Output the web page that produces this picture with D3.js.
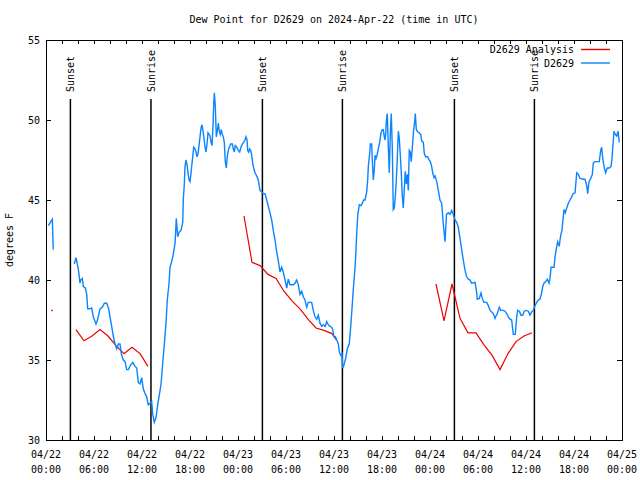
<!DOCTYPE html>
<html><head><meta charset="utf-8">
<script src="https://cdn.jsdelivr.net/npm/d3@7"></script>
<style>
html,body{margin:0;padding:0;background:#fff;}
text{font-family:"DejaVu Sans Mono",monospace;font-size:10px;fill:#000;}
</style></head>
<body><svg id="c" width="640" height="480"></svg>
<script>
// ---- data (hours after 2024-04-22 00:00 UTC, value in degrees F); NaN = gap ----
const blueHours = [0.29,0.54,0.79,0.91,2.0,
3.54,3.75,3.84,4.09,4.25,4.34,4.54,4.66,4.91,5.09,5.21,5.41,5.71,5.91,6.25,6.41,6.75,7.04,7.29,7.59,7.84,8.00,8.21,8.41,8.63,8.84,9.04,9.25,9.41,9.66,9.88,10.09,10.29,10.59,10.84,11.13,11.34,11.54,11.75,11.96,12.16,12.38,12.59,12.79,13.00,13.21,13.34,13.54,13.75,13.96,14.16,14.38,14.59,14.79,15.00,15.16,15.38,15.50,15.71,15.91,16.13,16.29,16.46,16.66,16.88,17.09,17.16,17.29,17.38,17.50,17.63,17.75,17.88,18.00,18.13,18.21,18.34,18.46,18.63,18.75,18.88,19.00,19.13,19.25,19.38,19.50,19.63,19.75,19.88,20.00,20.13,20.25,20.38,20.50,20.63,20.75,20.88,20.96,21.04,21.16,21.29,21.41,21.54,21.66,21.79,21.91,22.04,22.16,22.29,22.41,22.54,22.66,22.79,22.91,23.09,23.29,23.41,23.54,23.66,23.84,24.04,24.21,24.38,24.54,24.71,24.88,25.00,25.13,25.21,25.34,25.46,25.59,25.71,25.84,25.96,26.13,26.34,26.54,26.75,26.96,27.16,27.38,27.59,27.79,28.00,28.21,28.41,28.63,28.84,29.04,29.25,29.46,29.66,29.88,30.09,30.29,30.50,30.91,31.13,31.34,31.54,31.75,31.96,32.16,32.38,32.59,32.79,33.21,33.41,33.63,33.84,34.04,34.25,34.46,34.66,34.88,35.09,35.29,35.50,35.71,35.84,36.00,36.16,36.34,36.54,36.66,36.84,37.00,37.09,37.25,37.46,37.66,37.91,38.09,38.25,38.41,38.54,38.66,38.75,38.84,38.96,39.16,39.38,39.54,39.71,39.88,40.09,40.21,40.29,40.46,40.54,40.71,40.79,40.91,41.04,41.13,41.25,41.38,41.54,41.71,41.88,42.04,42.16,42.29,42.38,42.46,42.54,42.66,42.79,42.91,43.04,43.16,43.29,43.41,43.54,43.66,43.79,43.91,44.04,44.16,44.29,44.41,44.54,44.66,44.79,44.91,45.04,45.16,45.29,45.41,45.54,45.66,45.79,45.96,46.09,46.16,46.29,46.41,46.63,46.84,46.96,47.16,47.29,47.46,47.71,47.88,48.04,48.21,48.34,48.50,48.63,48.84,49.04,49.25,49.46,49.66,49.88,50.06,50.29,50.50,50.71,50.91,51.13,51.34,51.54,51.75,51.96,52.16,52.38,52.59,52.79,53.00,53.21,53.63,53.84,53.91,54.16,54.38,54.54,54.75,55.09,55.29,55.50,55.71,55.91,56.13,56.25,56.41,56.66,56.84,57.16,57.38,57.59,57.79,58.00,58.21,58.41,58.66,58.84,58.96,59.16,59.38,59.59,59.79,60.00,60.29,60.50,60.71,60.91,61.13,61.34,61.54,61.75,61.96,62.09,62.25,62.46,62.66,62.88,63.00,63.13,63.29,63.50,63.63,63.84,63.96,64.16,64.25,64.38,64.50,64.59,64.75,64.91,65.09,65.29,65.50,65.71,65.91,66.13,66.34,66.54,66.75,67.16,67.38,67.59,67.71,67.88,68.09,68.29,68.41,68.63,69.16,69.34,69.46,69.59,69.79,69.96,70.16,70.41,70.63,70.75,70.88,71.00,71.16,71.34,71.50,71.66];
const blueValues = [43.4,43.6,43.8,41.9,NaN,
41.0,41.4,41.2,40.5,39.8,40.0,40.1,39.6,39.5,39.1,38.2,38.2,38.25,37.7,37.25,37.45,38.2,38.3,38.55,38.55,38.2,37.7,37.1,36.5,36.0,35.7,36.0,36.0,35.4,35.0,34.9,34.4,34.4,34.7,34.85,34.6,34.5,33.6,33.5,33.9,33.2,32.9,32.7,32.2,32.3,32.4,31.6,31.1,31.4,32.2,32.8,33.5,34.8,36.0,37.3,38.75,39.8,40.8,41.15,41.6,42.3,43.85,42.7,43.0,43.1,43.6,45.0,46.0,47.1,47.5,47.2,46.7,46.25,46.15,46.7,47.1,47.7,48.3,48.2,48.0,47.7,47.9,48.4,48.95,49.5,49.7,49.3,48.85,48.3,48.0,48.5,49.2,49.1,49.0,48.6,48.4,49.7,50.9,51.7,50.9,48.95,49.3,49.8,49.3,49.1,49.4,49.1,48.95,48.6,47.4,47.0,47.7,48.1,48.3,48.5,48.5,48.2,48.0,48.4,48.3,48.1,48.0,48.3,48.5,48.6,48.75,48.95,48.75,48.1,48.0,48.2,48.1,47.8,47.3,47.0,46.7,46.5,46.25,45.6,45.5,45.4,45.4,45.0,44.6,44.2,43.75,43.1,42.5,41.75,41.2,40.5,40.8,40.5,40.0,39.5,40.05,39.7,39.7,39.8,40.0,39.7,39.1,39.3,38.95,38.75,38.3,38.6,38.6,38.1,37.7,37.55,37.8,37.3,37.1,37.2,37.1,37.4,37.2,37.1,37.05,36.9,36.45,36.45,36.25,36.0,35.5,35.3,35.4,34.5,34.7,35.1,35.7,36.0,37.1,38.2,39.4,40.2,41.0,41.9,42.9,44.0,44.7,44.65,44.8,45.0,45.0,45.5,46.25,47.1,47.9,48.5,48.5,47.5,46.25,46.9,47.8,47.6,47.8,48.2,48.6,49.2,49.4,49.4,48.95,48.75,49.1,49.9,50.4,48.3,46.7,49.2,50.4,48.2,44.4,44.5,45.2,46.25,47.6,49.3,48.85,47.8,46.7,45.2,44.5,45.7,46.8,46.0,46.6,45.6,48.1,48.0,47.4,48.3,49.4,49.9,50.4,49.4,49.3,49.2,49.1,48.7,48.6,47.9,47.7,47.7,47.5,47.4,47.1,46.7,46.4,46.5,46.15,45.6,45.0,44.8,43.5,42.4,44.1,44.2,44.1,44.35,44.1,43.75,43.6,43.3,42.6,41.9,41.25,40.6,40.2,40.05,40.0,39.8,39.85,39.2,38.8,38.85,39.2,38.85,38.6,38.6,38.4,38.1,38.0,37.9,37.6,37.75,37.9,38.3,38.1,38.1,38.05,37.9,37.7,37.55,37.5,36.6,36.6,37.7,38.1,38.05,37.8,37.8,38.05,38.1,38.05,37.8,38.0,38.1,38.4,38.6,38.75,38.8,39.2,39.6,39.8,39.9,40.05,39.8,40.1,40.8,40.8,40.8,41.45,42.1,42.4,42.1,42.5,42.9,43.1,43.6,44.4,44.2,44.5,44.8,45.0,45.2,45.4,45.45,46.7,46.6,46.35,46.3,46.3,45.9,45.4,46.15,46.35,46.6,47.3,47.4,47.4,48.1,48.3,47.6,47.0,46.7,47.0,47.0,47.1,47.6,48.5,49.3,49.1,49.0,49.3,48.6];

const redHours  = [0.75,2.0,3.75,4.75,5.75,6.75,7.75,8.75,9.75,10.75,11.75,12.75,18.0,
24.75,25.75,26.75,27.75,28.75,29.75,30.75,31.75,32.75,33.75,34.75,35.75,36.3,42.0,
48.75,49.75,50.75,51.75,52.75,53.75,54.75,55.75,56.75,57.75,58.75,59.75,60.75];
const redValues = [38.1,NaN,36.9,36.2,36.5,36.9,36.5,35.9,35.4,35.8,35.4,34.6,NaN,
44.0,41.1,40.9,40.35,40.1,39.3,38.7,38.2,37.55,37.0,36.85,36.65,36.25,NaN,
39.75,37.45,39.75,37.6,36.7,36.7,35.95,35.3,34.4,35.4,36.15,36.5,36.7];

const sunHours  = [3.05,13.12,27.05,37.05,51.05,61.05];
const sunLabels = ["Sunset","Sunrise","Sunset","Sunrise","Sunset","Sunrise"];

const yTicks = [30,35,40,45,50,55];
const titleText = "Dew Point for D2629 on 2024-Apr-22 (time in UTC)";
const yLabel = "degrees F";
const seriesNames = ["D2629 Analysis","D2629"];
const seriesColors = ["#ee0000","#0a84ff"];

// ---- drawing ----
const start = new Date(Date.UTC(2024,3,22,0,0));
const end = new Date(Date.UTC(2024,3,25,0,0));
const toDate = h => new Date(start.getTime() + h*3600000);
const L=46, R=622, T=40, B=440;
const svg = d3.select("#c");
svg.append("rect").attr("width",640).attr("height",480).attr("fill","#fff");
const x = d3.scaleUtc().domain([start,end]).range([L,R]);
const y = d3.scaleLinear().domain([30,55]).range([B,T]);

// title
svg.append("text").attr("x",(L+R)/2).attr("y",23).attr("text-anchor","middle").text(titleText);
// y label
svg.append("text").attr("transform","translate(13,"+((T+B)/2)+") rotate(-90)")
  .attr("text-anchor","middle").text(yLabel);

const g = svg.append("g").attr("shape-rendering","crispEdges");
// x ticks
const minor = d3.utcHour.every(2).range(start, d3.utcHour.offset(end,1));
const major = d3.utcHour.every(6).range(start, d3.utcHour.offset(end,1));
minor.forEach(d=>{
  const xx = Math.round(x(d))+0.5;
  g.append("line").attr("x1",xx).attr("x2",xx).attr("y1",B).attr("y2",B-4).attr("stroke","#000");
  g.append("line").attr("x1",xx).attr("x2",xx).attr("y1",T).attr("y2",T+4).attr("stroke","#000");
});
const fmtD = d3.utcFormat("%m/%d"), fmtT = d3.utcFormat("%H:%M");
major.forEach(d=>{
  const xx = x(d);
  const t = svg.append("text").attr("text-anchor","middle");
  t.append("tspan").attr("x",xx).attr("y",458).text(fmtD(d));
  t.append("tspan").attr("x",xx).attr("y",473).text(fmtT(d));
});
// y ticks
yTicks.forEach(v=>{
  const yy = Math.round(y(v))+0.5;
  g.append("line").attr("x1",L).attr("x2",L+5).attr("y1",yy).attr("y2",yy).attr("stroke","#000");
  g.append("line").attr("x1",R).attr("x2",R-5).attr("y1",yy).attr("y2",yy).attr("stroke","#000");
  svg.append("text").attr("x",40).attr("y",y(v)).attr("dy","0.35em").attr("text-anchor","end").text(v);
});
// frame
g.append("rect").attr("x",L+0.5).attr("y",T+0.5).attr("width",R-L).attr("height",B-T)
  .attr("fill","none").attr("stroke","#000");

// sun lines
sunHours.forEach((h,i)=>{
  const xx = x(toDate(h));
  svg.append("line").attr("x1",xx).attr("x2",xx).attr("y1",99).attr("y2",B)
    .attr("stroke","#000").attr("stroke-width",1.5);
  svg.append("text").attr("transform","translate("+(xx+3.8)+",92) rotate(-90)")
    .attr("text-anchor","start").text(sunLabels[i]);
});

// series
const line = d3.line().defined(d=>!isNaN(d[1])).x(d=>x(toDate(d[0]))).y(d=>y(d[1]));
const redData = redHours.map((h,i)=>[h,redValues[i]]);
const blueData = blueHours.map((h,i)=>[h,blueValues[i]]);
svg.append("path").attr("d",line(redData)).attr("fill","none").attr("stroke",seriesColors[0]).attr("stroke-width",1.2);
// isolated red points (no neighbours) drawn as dots
redData.forEach((d,i)=>{
  const prev = redData[i-1], next = redData[i+1];
  if(!isNaN(d[1]) && (!prev||isNaN(prev[1])) && (!next||isNaN(next[1]))){
    svg.append("rect").attr("x",x(toDate(d[0]))-0.75).attr("y",y(d[1])-0.75).attr("width",1.5).attr("height",1.5).attr("fill",seriesColors[0]);
  }
});
svg.append("path").attr("d",line(blueData)).attr("fill","none").attr("stroke",seriesColors[1]).attr("stroke-width",1.4);

// legend
const legY = [49.5,63];
seriesNames.forEach((n,i)=>{
  svg.append("text").attr("x",574).attr("y",legY[i]).attr("dy","0.35em").attr("text-anchor","end").text(n);
  svg.append("line").attr("x1",581).attr("x2",610).attr("y1",legY[i]).attr("y2",legY[i])
    .attr("stroke",seriesColors[i]).attr("stroke-width",1.4);
});
</script></body></html>
